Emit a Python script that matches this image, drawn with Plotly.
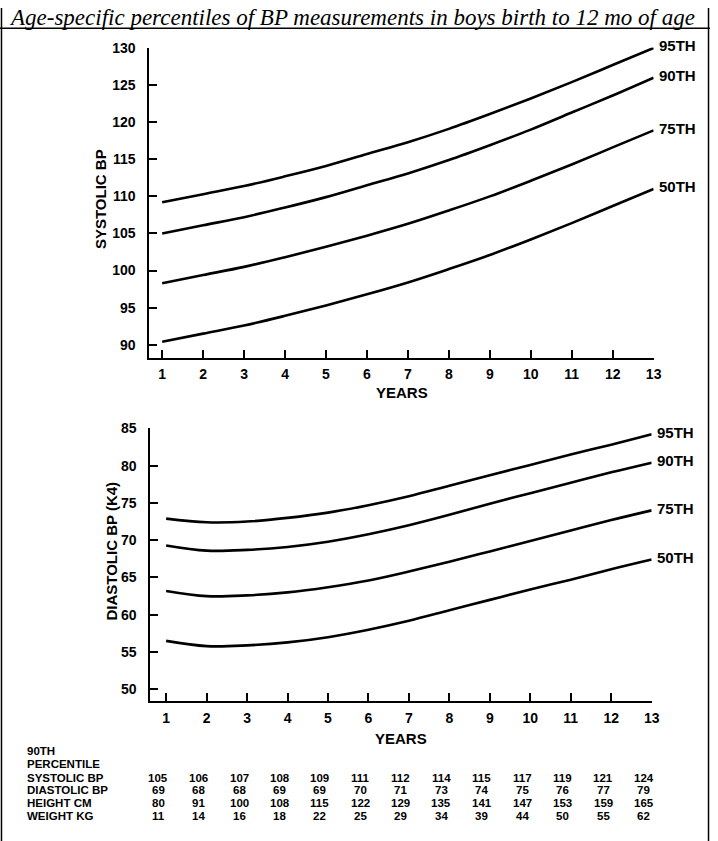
import plotly.graph_objects as go

W, H = 718, 841

years = list(range(1, 14))

# Systolic BP percentile curves
sys_95 = [109.2, 110.3, 111.4, 112.7, 114.1, 115.7, 117.3, 119.1, 121.1, 123.2, 125.4, 127.7, 130.0]
sys_90 = [105.0, 106.1, 107.2, 108.5, 109.9, 111.5, 113.1, 114.9, 116.9, 119.0, 121.3, 123.6, 126.0]
sys_75 = [98.3, 99.4, 100.5, 101.8, 103.2, 104.7, 106.3, 108.1, 110.0, 112.1, 114.3, 116.6, 118.9]
sys_50 = [90.4, 91.5, 92.6, 93.9, 95.3, 96.8, 98.4, 100.2, 102.1, 104.2, 106.4, 108.7, 111.0]

# Diastolic BP (K4) percentile curves
dia_95 = [72.9, 72.4, 72.5, 73.0, 73.7, 74.7, 75.9, 77.3, 78.7, 80.1, 81.5, 82.8, 84.2]
dia_90 = [69.3, 68.6, 68.7, 69.1, 69.8, 70.8, 72.0, 73.4, 74.9, 76.3, 77.7, 79.1, 80.4]
dia_75 = [63.2, 62.5, 62.6, 63.0, 63.7, 64.6, 65.8, 67.1, 68.5, 69.9, 71.3, 72.7, 74.0]
dia_50 = [56.5, 55.8, 55.9, 56.3, 57.0, 58.0, 59.2, 60.6, 62.0, 63.4, 64.7, 66.1, 67.4]

percentile_labels = ["95TH", "90TH", "75TH", "50TH"]

sys_ticks = [90, 95, 100, 105, 110, 115, 120, 125, 130]
dia_ticks = [50, 55, 60, 65, 70, 75, 80, 85]

# 90th percentile table
table_rows = ["SYSTOLIC BP", "DIASTOLIC BP", "HEIGHT CM", "WEIGHT KG"]
t_systolic = [105, 106, 107, 108, 109, 111, 112, 114, 115, 117, 119, 121, 124]
t_diastolic = [69, 68, 68, 69, 69, 70, 71, 73, 74, 75, 76, 77, 79]
t_height = [80, 91, 100, 108, 115, 122, 129, 135, 141, 147, 153, 159, 165]
t_weight = [11, 14, 16, 18, 22, 25, 29, 34, 39, 44, 50, 55, 62]

title = "Age-specific percentiles of BP measurements in boys birth to 12 mo of age"


def px(x):
    return x / W


def py(y):
    return 1 - y / H


SANS = "Liberation Sans, Arial, sans-serif"
BLACK = "black"
fig = go.Figure()

for series, lab in zip([sys_95, sys_90, sys_75, sys_50], percentile_labels):
    fig.add_trace(go.Scatter(x=years, y=series, mode="lines", xaxis="x", yaxis="y",
                             line=dict(color=BLACK, width=2.6, shape="spline", smoothing=1.0),
                             showlegend=False, hoverinfo="skip", cliponaxis=False))
    fig.add_annotation(x=years[-1], y=series[-1], xref="x", yref="y", text=lab,
                       showarrow=False, xanchor="left", yanchor="middle", xshift=3, yshift=2,
                       font=dict(family=SANS, size=15, color=BLACK, weight="bold"))

for series, lab in zip([dia_95, dia_90, dia_75, dia_50], percentile_labels):
    fig.add_trace(go.Scatter(x=years, y=series, mode="lines", xaxis="x2", yaxis="y2",
                             line=dict(color=BLACK, width=2.6, shape="spline", smoothing=1.0),
                             showlegend=False, hoverinfo="skip", cliponaxis=False))
    fig.add_annotation(x=years[-1], y=series[-1], xref="x2", yref="y2", text=lab,
                       showarrow=False, xanchor="left", yanchor="middle", xshift=3, yshift=2,
                       font=dict(family=SANS, size=15, color=BLACK, weight="bold"))

axis_common = dict(showline=True, linecolor=BLACK, linewidth=2, ticks="inside", ticklen=8,
                   tickwidth=1.5, tickcolor=BLACK, showgrid=False, zeroline=False,
                   tickfont=dict(family=SANS, size=14, color=BLACK, weight="bold"))

fig.update_layout(
    width=W, height=H, margin=dict(l=0, r=0, t=0, b=0),
    paper_bgcolor="white", plot_bgcolor="white", showlegend=False,
    xaxis=dict(domain=[px(151), px(661)], range=[1 - 13 / 41.4, 13], anchor="y",
               tickvals=years, ticklabelstandoff=3, **axis_common),
    yaxis=dict(domain=[py(353), py(40)], range=[130 - 313 / 7.5, 130.05], anchor="x",
               tickvals=sys_ticks, ticklabelstandoff=9, **axis_common),
    xaxis2=dict(domain=[px(152), px(659)], range=[1 - 16 / 40.9, 13], anchor="y2",
                tickvals=years, ticklabelstandoff=3, **axis_common),
    yaxis2=dict(domain=[py(700), py(424)], range=[85 - 276 / 7.54, 85.05], anchor="x2",
                tickvals=dia_ticks, ticklabelstandoff=9, **axis_common),
)

title_font = dict(family=SANS, size=15, color=BLACK, weight="bold")
# axis titles
fig.add_annotation(x=px(101), y=py(193), xref="paper", yref="paper", text="SYSTOLIC BP",
                   textangle=-90, showarrow=False, xanchor="center", yanchor="middle",
                   font=title_font)
fig.add_annotation(x=px(113), y=py(548), xref="paper", yref="paper", text="DIASTOLIC BP (K4)",
                   textangle=-90, showarrow=False, xanchor="center", yanchor="middle",
                   font=title_font)
fig.add_annotation(x=px(407), y=py(388), xref="paper", yref="paper", text="YEARS",
                   showarrow=False, xanchor="center", yanchor="middle", font=title_font)
fig.add_annotation(x=px(406), y=py(738), xref="paper", yref="paper", text="YEARS",
                   showarrow=False, xanchor="center", yanchor="middle", font=title_font)

# title
fig.add_annotation(x=px(7), y=py(10), xref="paper", yref="paper", text=title,
                   xanchor="left", yanchor="middle", showarrow=False,
                   font=dict(family="Liberation Serif, Times New Roman, serif", size=23,
                             color=BLACK, style="italic"))

# frame lines
fig.add_shape(type="line", xref="paper", yref="paper", x0=0, x1=1, y0=py(20.5), y1=py(20.5),
              line=dict(color=BLACK, width=1.5))
fig.add_shape(type="line", xref="paper", yref="paper", x0=px(1.5), x1=px(1.5), y0=0, y1=1,
              line=dict(color=BLACK, width=1.5))
fig.add_shape(type="line", xref="paper", yref="paper", x0=px(716.5), x1=px(716.5), y0=0, y1=1,
              line=dict(color=BLACK, width=1.5))

# table
tfont = dict(family=SANS, size=11.5, color=BLACK, weight="bold")
header_y = [750, 763]
row_y = [777, 790, 803, 816]
fig.add_annotation(x=px(25), y=py(header_y[0]), xref="paper", yref="paper", text="90TH",
                   xanchor="left", yanchor="middle", showarrow=False, font=tfont)
fig.add_annotation(x=px(25), y=py(header_y[1]), xref="paper", yref="paper", text="PERCENTILE",
                   xanchor="left", yanchor="middle", showarrow=False, font=tfont)
for name, vals, ry in zip(table_rows, [t_systolic, t_diastolic, t_height, t_weight], row_y):
    fig.add_annotation(x=px(25), y=py(ry), xref="paper", yref="paper", text=name,
                       xanchor="left", yanchor="middle", showarrow=False, font=tfont)
    for yr, v in zip(years, vals):
        fig.add_annotation(x=yr, y=py(ry), xref="x2", yref="paper", text=str(v), xshift=-8,
                           xanchor="center", yanchor="middle", showarrow=False, font=tfont)

fig.write_html("out.html", config={"displayModeBar": False},
               post_script="document.body.style.margin='0';")
